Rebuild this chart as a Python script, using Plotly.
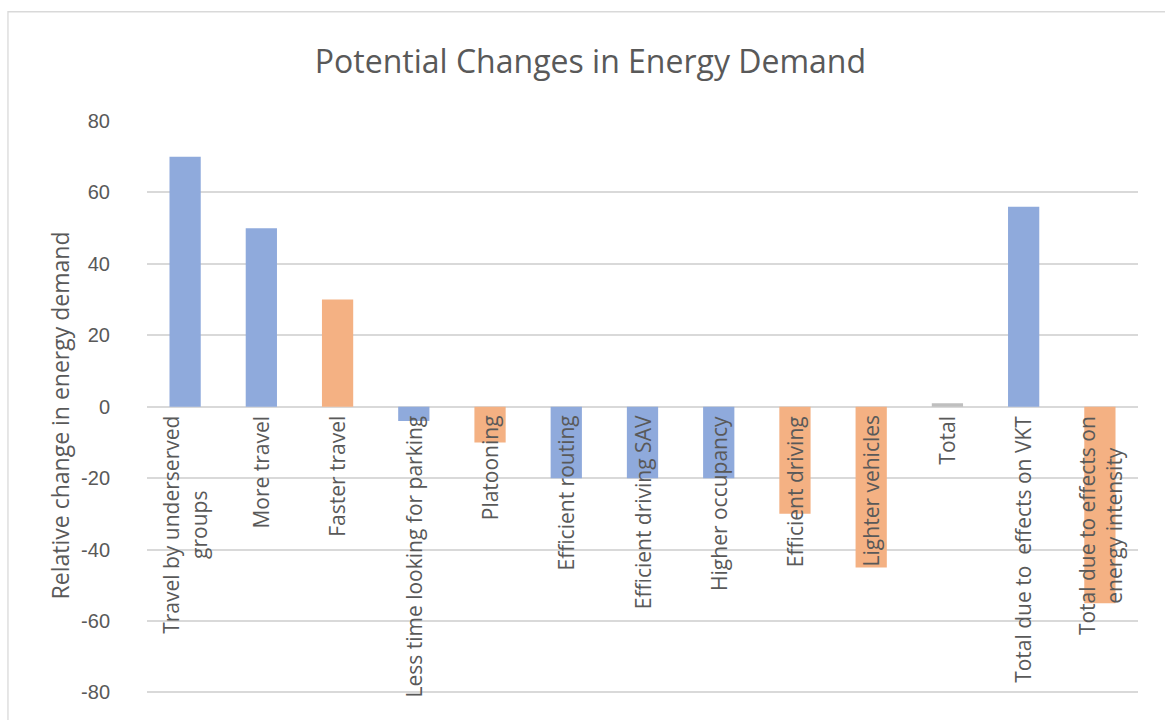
import plotly.graph_objects as go

# Categories and values (relative change in energy demand, %)
categories = [
    "Travel by underserved<br>groups",
    "More travel",
    "Faster travel",
    "Less time looking for parking",
    "Platooning",
    "Efficient routing",
    "Efficient driving SAV",
    "Higher occupancy",
    "Efficient driving",
    "Lighter vehicles",
    "Total",
    "Total due to  effects on VKT",
    "Total due to effects on<br>energy intensity",
]
values = [70, 50, 30, -4, -10, -20, -20, -20, -30, -45, 1, 56, -55]
groups = ["vkt", "vkt", "intensity", "vkt", "intensity", "vkt", "vkt", "vkt",
          "intensity", "intensity", "total", "vkt", "intensity"]

palette = {"vkt": "#8FAADC", "intensity": "#F4B183", "total": "#BFBFBF"}
bar_colors = [palette[g] for g in groups]

y_ticks = [-80, -60, -40, -20, 0, 20, 40, 60, 80]

TEXT = "#595959"
GRID = "#D9D9D9"

fig = go.Figure()
fig.add_trace(go.Bar(
    x=categories,
    y=values,
    marker=dict(color=bar_colors, line=dict(width=0)),
    hoverinfo="x+y",
))

# Category labels drawn just below the zero line, rotated
for cat in categories:
    fig.add_annotation(
        x=cat, y=0, xref="x", yref="y",
        text=cat, textangle=-90,
        showarrow=False, yanchor="top", xanchor="center",
        yshift=-7, align="center",
        font=dict(family="Open Sans", size=21, color=TEXT),
    )

# Value-axis title, placed a little below the axis midpoint
fig.add_annotation(
    x=-0.088, y=-2.5, xref="paper", yref="y",
    text="Relative change in energy demand", textangle=-90,
    showarrow=False, xanchor="center", yanchor="middle",
    font=dict(family="Open Sans", size=23, color=TEXT),
)

# Outer chart frame
fig.add_shape(
    type="rect", xref="paper", yref="paper",
    x0=-0.1403, x1=1.2, y0=-0.2, y1=1.19,
    line=dict(color=GRID, width=1.3), fillcolor="rgba(0,0,0,0)", layer="below",
)

fig.update_layout(
    width=1165, height=720,
    margin=dict(l=147, r=27, t=121, b=24),
    paper_bgcolor="white",
    plot_bgcolor="white",
    bargap=0.59,
    showlegend=False,
    title=dict(
        text="Potential Changes in Energy Demand",
        x=0.5068, xanchor="center", y=1 - 62 / 720, yanchor="middle",
        font=dict(family="Open Sans", size=32, color=TEXT),
    ),
    xaxis=dict(
        type="category",
        showticklabels=False,
        showgrid=False,
        zeroline=False,
        showline=False,
        fixedrange=True,
    ),
    yaxis=dict(
        range=[-81, 80],
        tickvals=y_ticks,
        ticktext=[str(v) for v in y_ticks],
        tickfont=dict(family="Liberation Sans", size=20, color=TEXT),
        ticklabelstandoff=36,
        showgrid=True,
        gridcolor=GRID,
        gridwidth=1.5,
        zeroline=True,
        zerolinecolor=GRID,
        zerolinewidth=1.5,
        showline=False,
        fixedrange=True,
    ),
)

fig.write_html("out.html")
